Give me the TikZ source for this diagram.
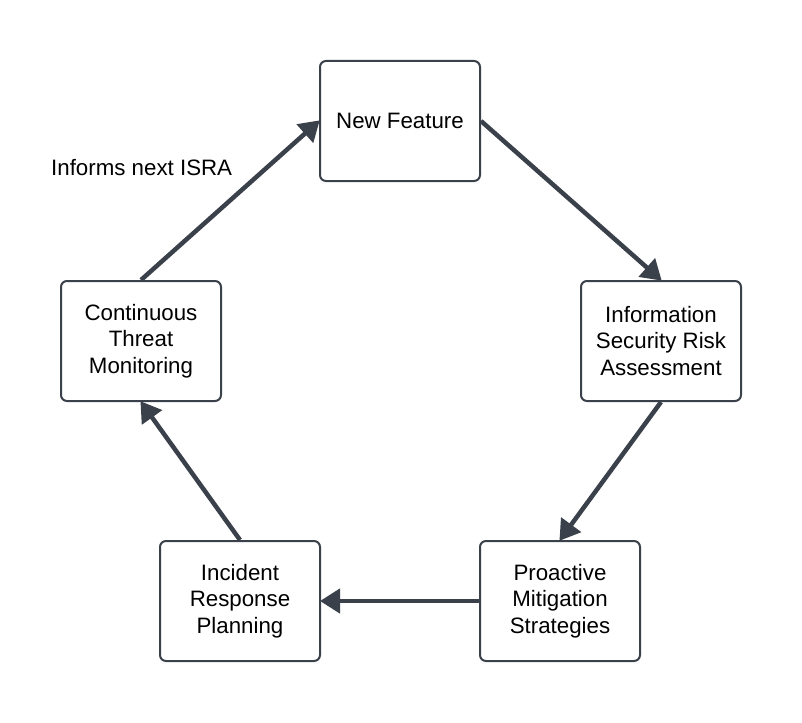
\documentclass[tikz,border=0pt]{standalone}
\usepackage{fontspec}
\setmainfont{Liberation Sans}
\usetikzlibrary{arrows.meta}
\definecolor{slate}{HTML}{3A414B}
\begin{document}
\begin{tikzpicture}[x=1pt,y=-1pt,
  box/.style={draw=slate,line width=2pt,rounded corners=6pt,fill=white,minimum width=160pt,minimum height=120pt,align=center,font=\fontsize{22.3}{26.5}\selectfont,inner sep=0pt},
  flow/.style={draw=slate,line width=4.5pt,-{Triangle[length=20pt,width=24pt]},shorten >=-1pt}]
\useasboundingbox (0,0) rectangle (802,722);
\node[box] (nf) at (400,121) {New Feature};
\node[box] (isra) at (661,341) {Information\\Security Risk\\Assessment};
\node[box] (pms) at (560,601) {Proactive\\Mitigation\\Strategies};
\node[box] (irp) at (240,601) {Incident\\Response\\Planning};
\node[box] (ctm) at (141,341) {Continuous\\Threat\\Monitoring};
\draw[flow] (nf.east) -- (isra.north);
\draw[flow] (isra.south) -- (pms.north);
\draw[flow] (pms.west) -- (irp.east);
\draw[flow] (irp.north) -- (ctm.south);
\draw[flow] (ctm.north) -- (nf.west);
\node[font=\fontsize{22.3}{26.5}\selectfont,anchor=west,inner sep=0pt] (lbl) at (51,168) {Informs next ISRA};
\end{tikzpicture}
\end{document}
